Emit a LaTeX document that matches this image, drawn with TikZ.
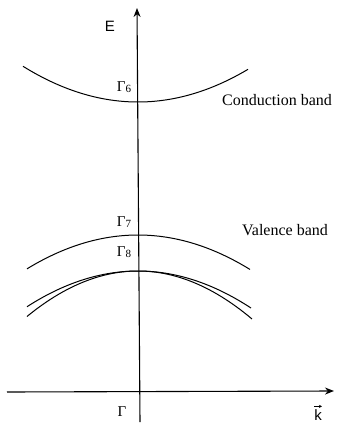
\documentclass[tikz,border=0pt]{standalone}
\usepackage{fontspec}
\setmainfont{Liberation Serif}
\newfontfamily\axisfont{Liberation Sans}
\usepackage{tikz}
\usetikzlibrary{arrows.meta}

\begin{document}
\begin{tikzpicture}[x=1pt, y=-1pt,
        axis/.style={line width=1.1pt, -{Stealth[length=9pt, width=7pt]}},
        band/.style={line width=1pt},
        bandname/.style={font=\fontsize{16}{18}\selectfont},
        level/.style={font=\fontsize{15}{16}\selectfont, inner sep=0pt},
        axlabel/.style={font=\axisfont\fontsize{15}{16}\selectfont, inner sep=0pt}
    ]
        \useasboundingbox (0,0) rectangle (340,429);

        % --- AXES ---
        \coordinate (ybot) at (140,422);
        \coordinate (ytop) at (137,8);
        \coordinate (xleft) at (7,392);
        \coordinate (xright) at (334,391);
        \draw[axis] (ybot) -- (ytop);
        \draw[axis] (xleft) -- (xright);

        \node[axlabel] (E) at (110,26) {E};
        \node[level] (gamma) at (122,412) {Γ};
        \node[axlabel] (k) at (318,415) {k};
        \draw[line width=0.8pt, -{Stealth[length=3pt, width=3pt]}]
            ([xshift=-4pt, yshift=3pt]k.north) -- ([xshift=4pt, yshift=3pt]k.north);

        % --- BANDS ---
        \draw[band] plot[domain=23:248, samples=60] (\x, {102-0.0027*(\x-138)^2});
        \draw[band] plot[domain=27:250, samples=60] (\x, {235+0.00275*(\x-138)^2});
        \draw[band] plot[domain=27:251, samples=60] (\x, {271+0.0029*(\x-138)^2});
        \draw[band] plot[domain=27:252, samples=60] (\x, {271+0.0037*(\x-138)^2});

        % --- LABELS ---
        \node[level] (g6) at (124,87) {Γ{\fontsize{11}{11}\selectfont\raisebox{-1pt}{6}}};
        \node[level] (g7) at (124,222) {Γ{\fontsize{11}{11}\selectfont\raisebox{-1pt}{7}}};
        \node[level] (g8) at (124,252) {Γ{\fontsize{11}{11}\selectfont\raisebox{-1pt}{8}}};
        \node[bandname] (cb) at (277,100) {Conduction band};
        \node[bandname] (vb) at (285,230) {Valence band};

    \end{tikzpicture}
\end{document}
